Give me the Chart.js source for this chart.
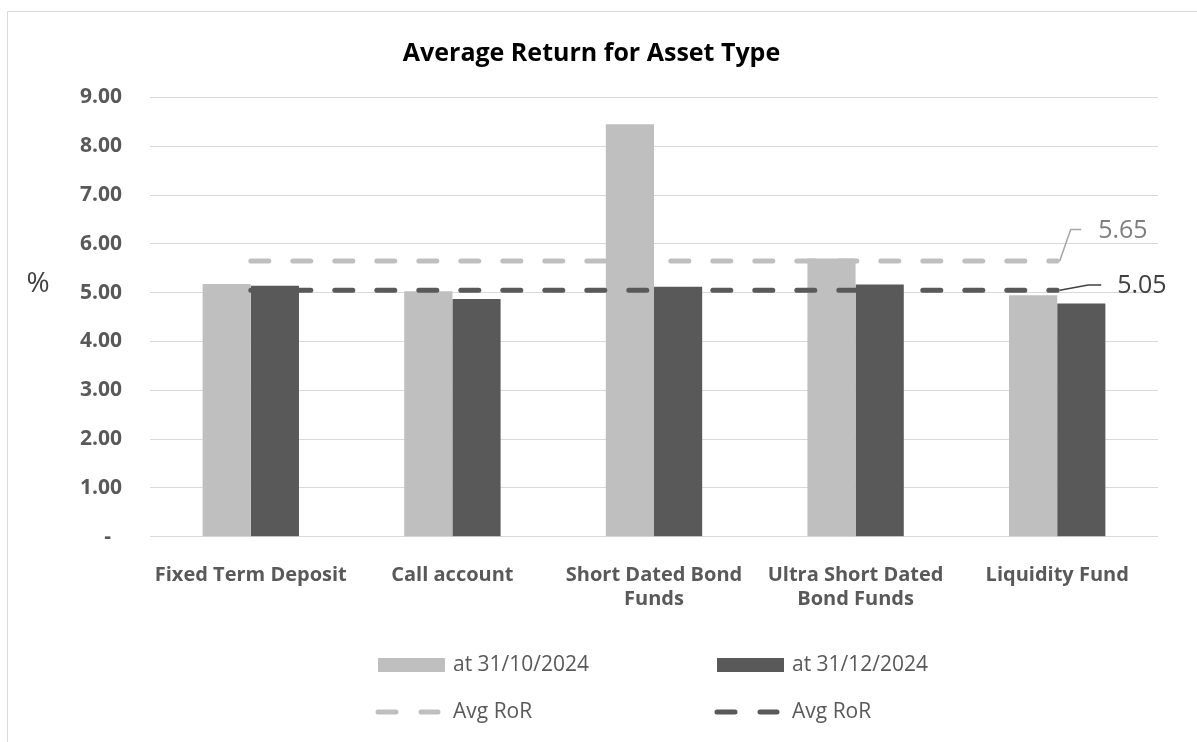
<!DOCTYPE html>
<html>
<head>
<meta charset="utf-8">
<script src="https://cdn.jsdelivr.net/npm/chart.js@4.4.1/dist/chart.umd.min.js"></script>
<style>
html,body{margin:0;padding:0;background:#fff;}
#wrap{position:relative;width:1197px;height:742px;}
canvas{display:block;}
</style>
</head>
<body>
<div id="wrap"><canvas id="c" width="1197" height="742"></canvas></div>
<script>
// ---- data ----
const categories = ['Fixed Term Deposit', 'Call account', ['Short Dated Bond', 'Funds'], ['Ultra Short Dated', 'Bond Funds'], 'Liquidity Fund'];
const octValues = [5.18, 5.03, 8.45, 5.70, 4.95];
const decValues = [5.14, 4.87, 5.12, 5.17, 4.78];
const avgOctValues = [5.65, 5.65, 5.65, 5.65, 5.65];
const avgDecValues = [5.05, 5.05, 5.05, 5.05, 5.05];
const seriesNames = ['at 31/10/2024', 'at 31/12/2024', 'Avg RoR', 'Avg RoR'];
const avgLabels = ['5.65', '5.05'];
const chartTitle = 'Average Return for Asset Type';
const yAxisLabel = '%';
const yMin = 0, yMax = 9, yStep = 1;

// ---- styles ----
const FONT = "'Open Sans', 'Noto Sans', sans-serif";
const LIGHT = '#BFBFBF';
const DARK = '#595959';
const GRID = '#D9D9D9';
const TEXT = '#595959';

const framePlugin = {
  id: 'frame',
  beforeDraw(chart) {
    const ctx = chart.ctx;
    ctx.save();
    ctx.fillStyle = '#ffffff';
    ctx.fillRect(0, 0, chart.width, chart.height);
    ctx.strokeStyle = GRID;
    ctx.lineWidth = 1;
    ctx.beginPath();
    ctx.moveTo(7.5, chart.height);
    ctx.lineTo(7.5, 11.5);
    ctx.lineTo(chart.width, 11.5);
    ctx.stroke();
    // chart title
    ctx.fillStyle = '#000000';
    ctx.font = "bold 25px " + FONT;
    ctx.textAlign = 'center';
    ctx.textBaseline = 'middle';
    ctx.fillText(chartTitle, 591.5, 54);
    // y axis label "%"
    ctx.fillStyle = '#404040';
    ctx.font = "28px " + FONT;
    ctx.fillText(yAxisLabel, 38, 284);
    ctx.restore();
  }
};

const avgLabelPlugin = {
  id: 'avgLabels',
  afterDatasetsDraw(chart) {
    const ctx = chart.ctx;
    const specs = [
      {ds: 2, color: '#A6A6A6', text: '#7F7F7F', label: avgLabels[0], pts: [[2.5, 0], [13.5, -31.5], [24, -31.5]], tx: 41, ty: -30},
      {ds: 3, color: '#404040', text: '#404040', label: avgLabels[1], pts: [[2.5, 0], [31, -5.3], [44, -5.3]], tx: 60, ty: -4}
    ];
    ctx.save();
    specs.forEach(s => {
      const meta = chart.getDatasetMeta(s.ds);
      const el = meta.data[meta.data.length - 1];
      const x = el.x, y = el.y;
      ctx.strokeStyle = s.color;
      ctx.lineWidth = 1.5;
      ctx.beginPath();
      s.pts.forEach((p, i) => {
        if (i === 0) ctx.moveTo(x + p[0], y + p[1]); else ctx.lineTo(x + p[0], y + p[1]);
      });
      ctx.stroke();
      ctx.fillStyle = s.text;
      ctx.font = "25px " + FONT;
      ctx.textAlign = 'left';
      ctx.textBaseline = 'middle';
      ctx.fillText(s.label, x + s.tx, y + s.ty);
    });
    ctx.restore();
  }
};

const legendPlugin = {
  id: 'customLegend',
  afterDraw(chart) {
    const ctx = chart.ctx;
    const ds = chart.data.datasets;
    const cols = [378, 717];
    const rows = [665, 712];
    ctx.save();
    ctx.font = "21px " + FONT;
    ctx.textAlign = 'left';
    ctx.textBaseline = 'middle';
    ds.forEach((d, i) => {
      const x = cols[i % 2];
      const y = rows[Math.floor(i / 2)];
      if (d.type === 'line') {
        ctx.strokeStyle = d.borderColor;
        ctx.lineWidth = 5;
        ctx.lineCap = 'round';
        ctx.beginPath();
        ctx.moveTo(x, y); ctx.lineTo(x + 18, y);
        ctx.moveTo(x + 43, y); ctx.lineTo(x + 60, y);
        ctx.stroke();
      } else {
        ctx.fillStyle = d.backgroundColor;
        ctx.fillRect(x, y - 7, 67, 14);
      }
      ctx.fillStyle = TEXT;
      ctx.fillText(d.label, x + 75, y);
    });
    ctx.restore();
  }
};

new Chart(document.getElementById('c'), {
  type: 'bar',
  data: {
    labels: categories,
    datasets: [
      {label: seriesNames[0], data: octValues, backgroundColor: LIGHT, order: 1, categoryPercentage: 0.478, barPercentage: 1.0},
      {label: seriesNames[1], data: decValues, backgroundColor: DARK, order: 1, categoryPercentage: 0.478, barPercentage: 1.0},
      {label: seriesNames[2], data: avgOctValues, type: 'line', borderColor: LIGHT, backgroundColor: LIGHT, borderWidth: 5,
       borderDash: [18, 24], borderCapStyle: 'round', pointRadius: 0, fill: false, order: 0},
      {label: seriesNames[3], data: avgDecValues, type: 'line', borderColor: DARK, backgroundColor: DARK, borderWidth: 5,
       borderDash: [18, 24], borderCapStyle: 'round', pointRadius: 0, fill: false, order: 0}
    ]
  },
  options: {
    responsive: false,
    animation: false,
    devicePixelRatio: 1,
    layout: {padding: {top: 97.5, left: 0, right: 39, bottom: 0}},
    plugins: {
      legend: {display: false},
      tooltip: {enabled: false},
      title: {display: false}
    },
    scales: {
      x: {
        grid: {display: false},
        border: {display: false},
        ticks: {
          color: TEXT,
          font: {family: FONT, size: 20, weight: 'bold', lineHeight: 1.2},
          padding: 19,
          maxRotation: 0,
          autoSkip: false
        },
        afterFit(scale) { scale.height = 205.3; }
      },
      y: {
        min: yMin,
        max: yMax,
        grid: {color: GRID, lineWidth: 1, drawTicks: false},
        border: {display: false},
        ticks: {
          stepSize: yStep,
          color: TEXT,
          padding: 28,
          font: {family: FONT, size: 21, weight: 'bold'},
          callback: (v) => v === 0 ? '-  ' : Number(v).toFixed(2)
        },
        afterFit(scale) { scale.width = 150; }
      }
    }
  },
  plugins: [framePlugin, avgLabelPlugin, legendPlugin]
});
</script>
</body>
</html>
